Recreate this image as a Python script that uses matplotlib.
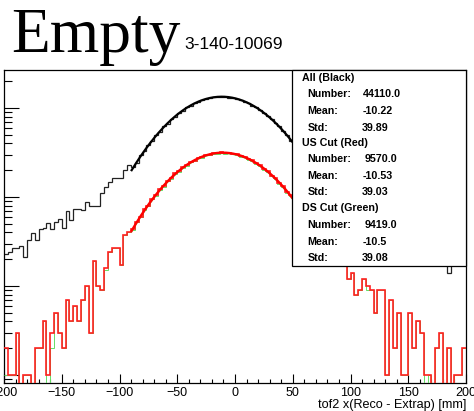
import numpy as np
import matplotlib
matplotlib.use("Agg")
import matplotlib.pyplot as plt
from matplotlib.patches import Rectangle
from matplotlib.ticker import LogLocator, MultipleLocator, NullFormatter, FixedLocator

# ---------------- data ----------------
x_min, x_max, n_bins = -200.0, 200.0, 120

black_counts = [
    23, 24, 27, 27, 28, 21, 33, 39, 33, 44, 45, 51, 44, 52, 56, 45, 70, 55, 74, 73,
    72, 88, 80, 80, 79, 110, 130, 148, 165, 165, 165, 200, 229,
    215, 240, 295, 325, 385, 425, 495, 540, 620, 665, 750, 800, 885, 935, 1015, 1060,
    1140, 1170, 1235, 1255, 1310, 1315, 1345, 1330, 1345, 1310, 1305, 1260, 1240, 1175,
    1140, 1065, 1020, 940, 890, 805, 755, 670, 625, 545, 500,
    430, 390, 330, 300, 250, 220, 190, 170, 150, 135, 120, 110, 95, 90, 80, 78, 72, 70,
    62, 60, 55, 52, 50, 45, 47, 44, 40, 38, 36, 34, 33, 30, 31, 28, 27, 26, 25, 24, 22,
    24, 21, 14, 20, 22, 19, 21,
]

red_counts = [
    2, 1, 1, 3, 0, 1, 1, 0, 2, 2, 4, 1, 3, 5, 3, 2, 7, 4, 6, 4,
    7, 10, 3, 19, 10, 9, 16, 24, 27, 27, 17, 37, 40,
    44, 53, 60, 73, 80, 96, 104, 122, 133, 152, 163, 185, 195, 217, 226, 248, 255, 275,
    280, 297, 300, 312, 310, 318, 312, 314, 305, 302, 288, 284, 266, 258, 238, 228, 206,
    196, 174, 164, 143, 132, 114, 104, 88, 80, 66, 60, 48, 43, 34, 30, 25, 21, 19, 20,
    18, 18,
    12, 14, 8, 9, 12, 10, 9, 5, 9, 9, 1, 7, 2, 5, 1, 1, 5, 2, 4, 3, 1, 1, 0, 2, 3, 0, 2,
    0, 1, 1, 2,
]

green_counts = [
    1, 1, 1, 3, 0, 1, 1, 0, 2, 2, 4, 0, 2, 5, 3, 2, 7, 4, 6, 4,
    7, 10, 3, 19, 10, 9, 15, 24, 27, 27, 17, 37, 40,
    43, 52, 59, 72, 79, 94, 103, 120, 131, 150, 160, 182, 192, 214, 222, 245, 251, 271,
    276, 293, 295, 307, 306, 313, 307, 309, 301, 297, 284, 280, 262, 254, 235, 224, 203,
    193, 171, 161, 141, 130, 112, 102, 87, 79, 65, 59, 47, 42, 34, 29, 25, 21, 19, 19,
    18, 18,
    12, 14, 8, 9, 12, 9, 9, 5, 9, 9, 1, 7, 2, 5, 1, 1, 5, 2, 4, 3, 0, 1, 0, 2, 3, 0, 2,
    0, 1, 1, 2,
]

fit_range = (-90.0, 50.0)
black_fit = (1340.0, -11.5, 40.0)   # amplitude, mean, sigma
green_fit = (310.0, -10.5, 39.3)
red_fit = (315.0, -10.5, 39.3)

stats_titles = ["All (Black)", "US Cut (Red)", "DS Cut (Green)"]
stats_numbers = ["44110.0", "9570.0", "9419.0"]
stats_means = ["-10.22", "-10.53", "-10.5"]
stats_stds = ["39.89", "39.03", "39.08"]

title_text = "Empty"
subtitle_text = "3-140-10069"
xlabel_text = "tof2 x(Reco - Extrap) [mm]"
x_ticks = [-200, -150, -100, -50, 0, 50, 100, 150, 200]

# ---------------- figure ----------------
W, H = 474, 411
fig = plt.figure(figsize=(W / 100, H / 100), dpi=100)
fig.patch.set_facecolor("white")

def fx(px):
    return px / W

def fy(py):
    return 1 - py / H

ax_left, ax_right, ax_top, ax_bottom = 4, 466, 70, 383
ax = fig.add_axes([fx(ax_left), fy(ax_bottom), (ax_right - ax_left) / W, (ax_bottom - ax_top) / H])
ax.set_yscale("log")
ax.set_xlim(x_min, x_max)
ax.set_ylim(0.813, 2673)

edges = np.linspace(x_min, x_max, n_bins + 1)

def draw_hist(vals, color, z, lw):
    v = np.asarray(vals, dtype=float)
    v = np.where(v > 0, v, 1e-3)
    ax.stairs(v, edges, color=color, lw=lw, baseline=None, zorder=z)

def draw_fit(params, color, z, lw):
    a, m, s = params
    xs = np.linspace(fit_range[0], fit_range[1], 300)
    ax.plot(xs, a * np.exp(-0.5 * ((xs - m) / s) ** 2), color=color, lw=lw, zorder=z,
            solid_capstyle="butt")

draw_hist(black_counts, "#222222", 2, 0.9)
draw_fit(black_fit, "black", 3, 1.6)
draw_hist(green_counts, "#66dd66", 4, 0.7)
draw_fit(green_fit, "#66dd66", 5, 1.2)
draw_hist(red_counts, "#ff2020", 6, 1.2)
draw_fit(red_fit, "#ff0000", 7, 1.7)

# axes styling
for sp in ax.spines.values():
    sp.set_linewidth(0.9)
    sp.set_color("black")

ax.xaxis.set_major_locator(FixedLocator(x_ticks))
ax.xaxis.set_minor_locator(MultipleLocator(10))
ax.yaxis.set_major_locator(LogLocator(base=10, numticks=10))
ax.yaxis.set_minor_locator(LogLocator(base=10, subs=np.arange(2, 10), numticks=20))
ax.yaxis.set_major_formatter(NullFormatter())
ax.yaxis.set_minor_formatter(NullFormatter())
ax.tick_params(axis="x", which="major", direction="in", length=6.7, width=0.8,
               labelsize=9, pad=3.0, top=False)
ax.tick_params(axis="x", which="minor", direction="in", length=3.1, width=0.8, top=False)
ax.tick_params(axis="y", which="major", direction="in", length=10.8, width=0.8, right=False)
ax.tick_params(axis="y", which="minor", direction="in", length=5.8, width=0.8, right=False)
for lab in ax.get_xticklabels():
    lab.set_family("Liberation Sans")

# title
fig.text(fx(11), fy(52), title_text, family="Liberation Serif", fontsize=45.7,
         ha="left", va="baseline", color="black")
fig.text(fx(184), fy(49), subtitle_text, family="Liberation Sans", fontsize=12.5,
         ha="left", va="baseline", color="black")

# x label
fig.text(fx(466), fy(405), xlabel_text, family="Liberation Sans", fontsize=9.1,
         ha="right", va="center", color="black")

# stats box
box = Rectangle((fx(292.3), fy(266)), (465.7 - 292.3) / W, (266 - 70) / H,
                transform=fig.transFigure, facecolor="white", edgecolor="black",
                lw=0.9, zorder=10)
fig.add_artist(box)

row_y = [77.7, 94.3, 111.0, 127.7, 142.7, 159.3, 176.0, 192.3, 207.7, 225.0, 241.7, 257.7]
num_x = [363.3, 364.3, 364.3]
for i in range(3):
    kw = dict(family="Liberation Sans", fontweight="bold", fontsize=7.7,
              va="center", ha="left", color="black", zorder=11)
    fig.text(fx(301.7), fy(row_y[4 * i]), stats_titles[i], **kw)
    fig.text(fx(307.7), fy(row_y[4 * i + 1]), "Number:", **kw)
    fig.text(fx(num_x[i]), fy(row_y[4 * i + 1]), stats_numbers[i], **kw)
    fig.text(fx(307.7), fy(row_y[4 * i + 2]), "Mean:", **kw)
    fig.text(fx(362.3), fy(row_y[4 * i + 2]), stats_means[i], **kw)
    fig.text(fx(307.7), fy(row_y[4 * i + 3]), "Std:", **kw)
    fig.text(fx(361.7), fy(row_y[4 * i + 3]), stats_stds[i], **kw)

fig.savefig("out.png", dpi=100, facecolor="white")
